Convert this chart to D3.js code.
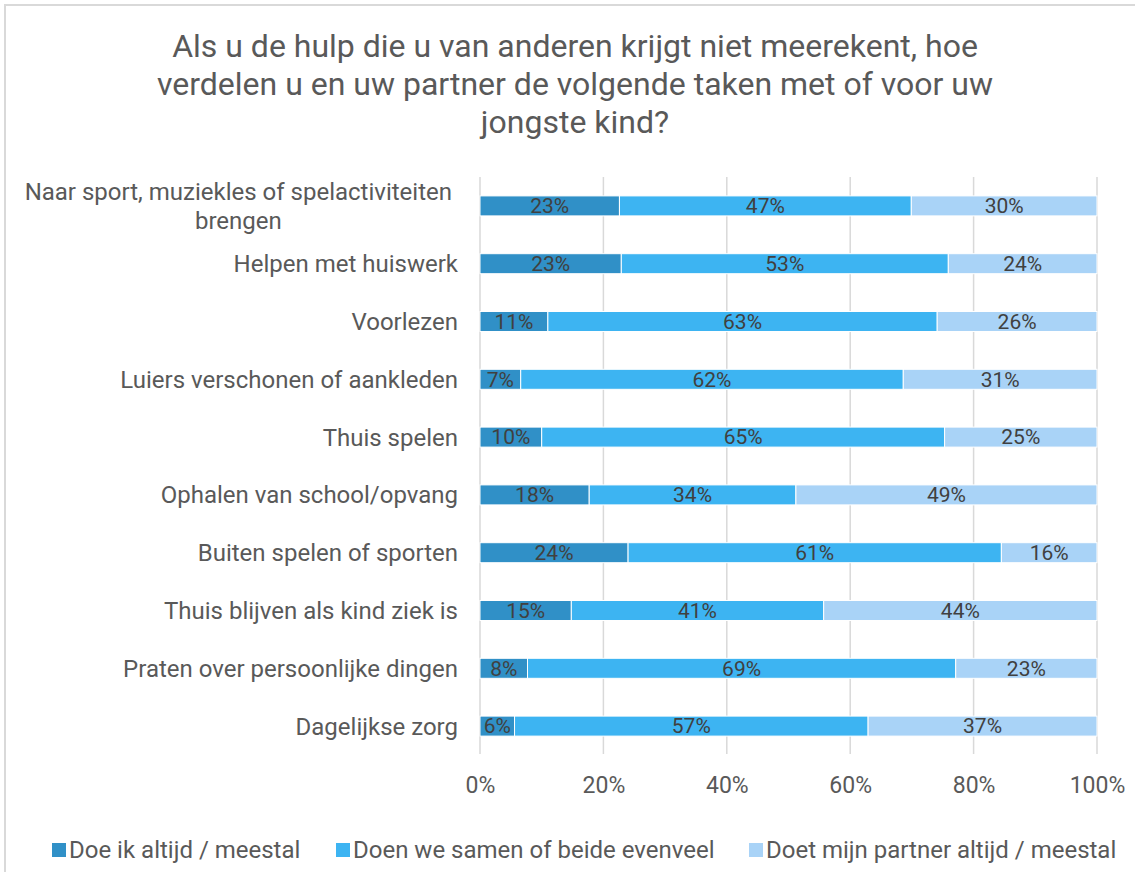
<!DOCTYPE html>
<html>
<head>
<meta charset="utf-8">
<script src="https://cdn.jsdelivr.net/npm/d3@7"></script>
<style>
  body { margin: 0; background: #fff; }
  svg { font-family: Roboto, "Noto Sans", sans-serif; }
</style>
</head>
<body>
<svg class="chart"></svg>
<script>
var width = 1135,
    height = 872

var titleLines = ["Als u de hulp die u van anderen krijgt niet meerekent, hoe",
    "verdelen u en uw partner de volgende taken met of voor uw",
    "jongste kind?"]

var categories = [
    ["Naar sport, muziekles of spelactiviteiten", "brengen"],
    ["Helpen met huiswerk"],
    ["Voorlezen"],
    ["Luiers verschonen of aankleden "],
    ["Thuis spelen"],
    ["Ophalen van school/opvang"],
    ["Buiten spelen of sporten"],
    ["Thuis blijven als kind ziek is"],
    ["Praten over persoonlijke dingen"],
    ["Dagelijkse zorg"]
]

var seriesNames = ["Doe ik altijd / meestal", "Doen we samen of beide evenveel", "Doet mijn partner altijd / meestal"]
var self = [22.6, 22.9, 11.0, 6.6, 10.0, 17.7, 24.0, 14.8, 7.7, 5.6]
var together = [47.3, 53.0, 63.1, 62.0, 65.3, 33.5, 60.5, 40.9, 69.4, 57.3]
var partner = [30.1, 24.1, 25.9, 31.4, 24.7, 48.8, 15.5, 44.3, 22.9, 37.1]
var ticks = [0, 20, 40, 60, 80, 100]

var colors = ["#3090c7", "#3db4f2", "#a9d3f7"]

var svg = d3.select(".chart")
    .attr("width", width)
    .attr("height", height)

// frame
svg.append("path")
    .attr("d", `M5,${height} V5 H${width}`)
    .attr("fill", "none")
    .attr("stroke", "#d9d9d9")
    .attr("stroke-width", 2)

svg.append("text")
    .attr("text-anchor", "middle")
    .attr("font-size", 32)
    .attr("fill", "#595959")
    .selectAll("tspan")
    .data(titleLines)
    .join("tspan")
    .attr("x", 575)
    .attr("y", (d, i) => 57 + i * 38)
    .text(d => d)

var rows = categories.map((c, i) => ({ label: c, values: [self[i], together[i], partner[i]] }))

var x = d3.scaleLinear().domain([0, 100]).range([480, 1097])
var y = d3.scaleBand()
    .domain(d3.range(rows.length))
    .range([177, 755])
    .paddingInner(0.654)
    .paddingOuter(0.327)

// gridlines
svg.append("g")
    .selectAll("line")
    .data(ticks)
    .join("line")
    .attr("x1", d => x(d))
    .attr("x2", d => x(d))
    .attr("y1", 177)
    .attr("y2", 754)
    .attr("stroke", "#d9d9d9")
    .attr("stroke-width", 1.5)

var xAxis = svg.append("g")
    .attr("transform", "translate(0,754)")
    .call(d3.axisBottom(x).tickValues(ticks).tickFormat(d => d + "%").tickSize(0).tickPadding(23))
xAxis.select(".domain").remove()
xAxis.selectAll("text")
    .attr("font-family", "Roboto, sans-serif")
    .attr("font-size", 23)
    .attr("fill", "#595959")

// bars
var stacked = rows.map((r, i) => {
    var acc = 0
    return r.values.map((v, k) => {
        var seg = { row: i, k: k, v: v, x0: acc, x1: acc + v }
        acc += v
        return seg
    })
})

var barG = svg.append("g")
barG.selectAll("g")
    .data(stacked)
    .join("g")
    .selectAll("rect")
    .data(d => d)
    .join("rect")
    .attr("x", d => x(d.x0))
    .attr("width", d => x(d.x1) - x(d.x0))
    .attr("y", d => y(d.row))
    .attr("height", y.bandwidth())
    .attr("fill", d => colors[d.k])
    .attr("stroke", "#fff")
    .attr("stroke-width", 1)

svg.append("g")
    .selectAll("text")
    .data(stacked.flat())
    .join("text")
    .attr("x", d => x((d.x0 + d.x1) / 2))
    .attr("y", d => y(d.row) + y.bandwidth() / 2)
    .attr("dy", "0.35em")
    .attr("text-anchor", "middle")
    .attr("font-size", 21)
    .attr("fill", "#404040")
    .text(d => Math.round(d.v) + "%")

// category labels
var labelG = svg.append("g")
    .attr("font-size", 24)
    .attr("fill", "#595959")
rows.forEach((r, i) => {
    var cy = y(i) + y.bandwidth() / 2
    var t = labelG.append("text")
    if (r.label.length === 1) {
        t.attr("x", 458).attr("y", cy).attr("dy", "0.35em")
            .attr("text-anchor", "end").text(r.label[0])
    } else {
        var n = r.label.length
        t.attr("text-anchor", "middle")
        t.selectAll("tspan")
            .data(r.label)
            .join("tspan")
            .attr("y", (d, j) => cy + (j - (n - 1) / 2) * 29)
            .attr("dy", "0.35em")
            .text(d => d)
        var w = d3.max(t.selectAll("tspan").nodes(), n => n.getComputedTextLength())
        t.selectAll("tspan").attr("x", 452 - w / 2)
    }
})

// legend
var legendX = [52, 336, 749]
var legend = svg.append("g")
    .selectAll("g")
    .data(seriesNames)
    .join("g")
    .attr("transform", (d, i) => `translate(${legendX[i]},850)`)
legend.append("rect")
    .attr("x", 0)
    .attr("y", -7)
    .attr("width", 14)
    .attr("height", 14)
    .attr("fill", (d, i) => colors[i])
legend.append("text")
    .attr("x", 17)
    .attr("dy", "0.35em")
    .attr("font-size", 24)
    .attr("fill", "#595959")
    .text(d => d)
</script>
</body>
</html>
